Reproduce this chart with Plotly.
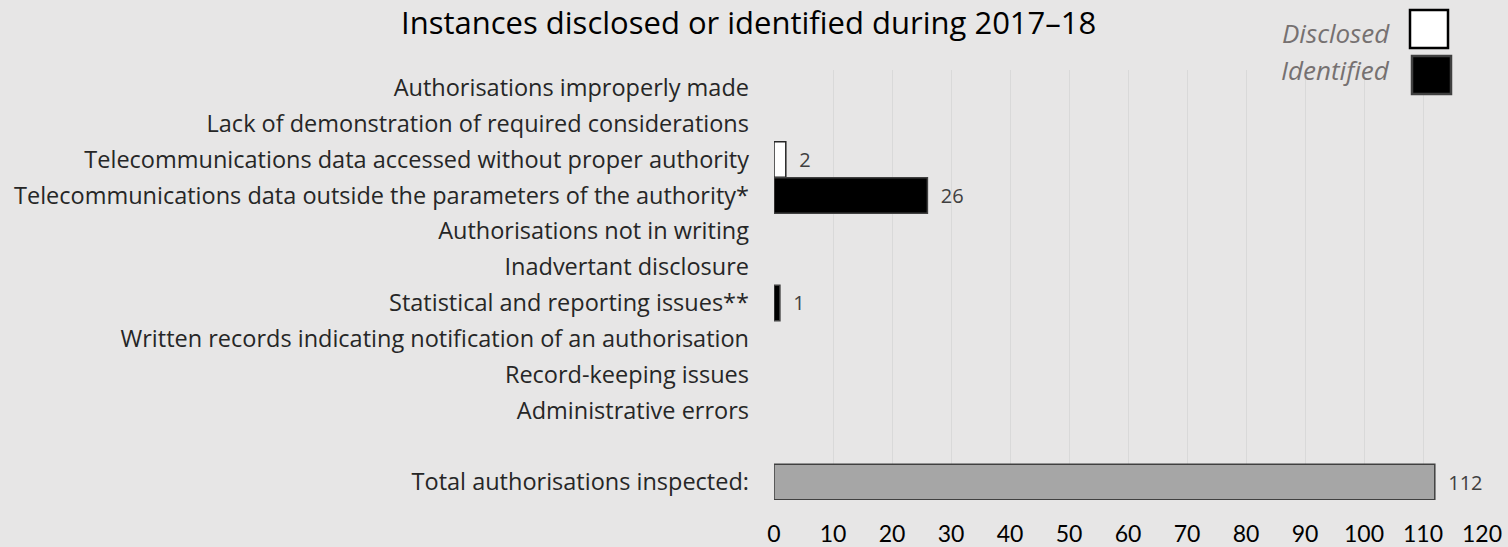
import plotly.graph_objects as go

categories = [
    "Authorisations improperly made",
    "Lack of demonstration of required considerations",
    "Telecommunications data accessed without proper authority",
    "Telecommunications data outside the parameters of the authority*",
    "Authorisations not in writing",
    "Inadvertant disclosure",
    "Statistical and reporting issues**",
    "Written records indicating notification of an authorisation",
    "Record-keeping issues",
    "Administrative errors",
    " ",
    "Total authorisations inspected:",
]
disclosed = [None, None, 2, None, None, None, None, None, None, None, None, None]
identified = [None, None, None, 26, None, None, 1, None, None, None, None, None]
total = [None] * 11 + [112]
x_ticks = [0, 10, 20, 30, 40, 50, 60, 70, 80, 90, 100, 110, 120]

W, H = 1508, 547
L, R, T, B = 774, 26, 70, 47
PW, PH = W - L - R, H - T - B

def px(xp):
    return (xp - L) / PW

def py(yp):
    return (H - B - yp) / PH

def lab(vals):
    return ["  " + str(v) if v is not None else "" for v in vals]

label_font = dict(family="Open Sans", size=20, color="#404040")

fig = go.Figure()
fig.add_trace(go.Bar(y=categories, x=disclosed, orientation="h", name="Disclosed",
                     marker=dict(color="#ffffff", line=dict(color="#262626", width=1.5)),
                     text=lab(disclosed), textposition="outside", cliponaxis=False,
                     textfont=label_font, showlegend=False))
fig.add_trace(go.Bar(y=categories, x=identified, orientation="h", name="Identified",
                     marker=dict(color="#000000", line=dict(color="#404040", width=1.5)),
                     text=lab(identified), textposition="outside", cliponaxis=False,
                     textfont=label_font, showlegend=False))
fig.add_trace(go.Bar(y=categories, x=total, orientation="h", name="Total",
                     marker=dict(color="#a6a6a6", line=dict(color="#404040", width=1.5)),
                     text=lab(total), textposition="outside", cliponaxis=False,
                     textfont=label_font, showlegend=False))

fig.update_layout(
    width=W, height=H,
    margin=dict(l=L, r=R, t=T, b=B, autoexpand=False),
    paper_bgcolor="#e7e6e6", plot_bgcolor="#e7e6e6",
    barmode="overlay", bargap=0.01,
    xaxis=dict(range=[0, 120], tickvals=x_ticks, showgrid=True, gridcolor="#d9d9d9",
               gridwidth=1, zeroline=False, showline=False, ticks="",
               ticklabelstandoff=18,
               tickfont=dict(family="Lato", size=23, color="#000000"), automargin=False),
    yaxis=dict(categoryorder="array", categoryarray=categories, autorange="reversed",
               showgrid=False, zeroline=False, showline=False, ticks="",
               ticklabelstandoff=24,
               tickfont=dict(family="Open Sans", size=23.5, color="#262626"), automargin=False),
    font=dict(family="Open Sans"),
)

# chart title
fig.add_annotation(text="Instances disclosed or identified during 2017–18",
                   xref="paper", yref="paper", x=px(748), y=py(0),
                   xanchor="center", yanchor="top", showarrow=False, borderpad=0,
                   font=dict(family="Open Sans", size=31, color="#000000"))

# legend drawn as text + squares (text left of the swatch)
legend_items = [("Disclosed", "#ffffff", "#000000", 33, 10, 48, 1410, 1448),
                ("Identified", "#000000", "#404040", 70, 56, 94, 1412, 1451)]
for name, fill, border, ty, y0, y1, x0, x1 in legend_items:
    fig.add_annotation(text=name, xref="paper", yref="paper", x=px(1392), y=py(ty),
                       xanchor="right", yanchor="middle", showarrow=False,
                       font=dict(family="Open Sans", size=26, color="#767171", style="italic"))
    fig.add_shape(type="rect", xref="paper", yref="paper", x0=px(x0), x1=px(x1),
                  y0=py(y1), y1=py(y0), fillcolor=fill, line=dict(color=border, width=2.5))

fig.write_html("out.html", config={"displayModeBar": False},
               post_script="document.body.style.margin='0';")
